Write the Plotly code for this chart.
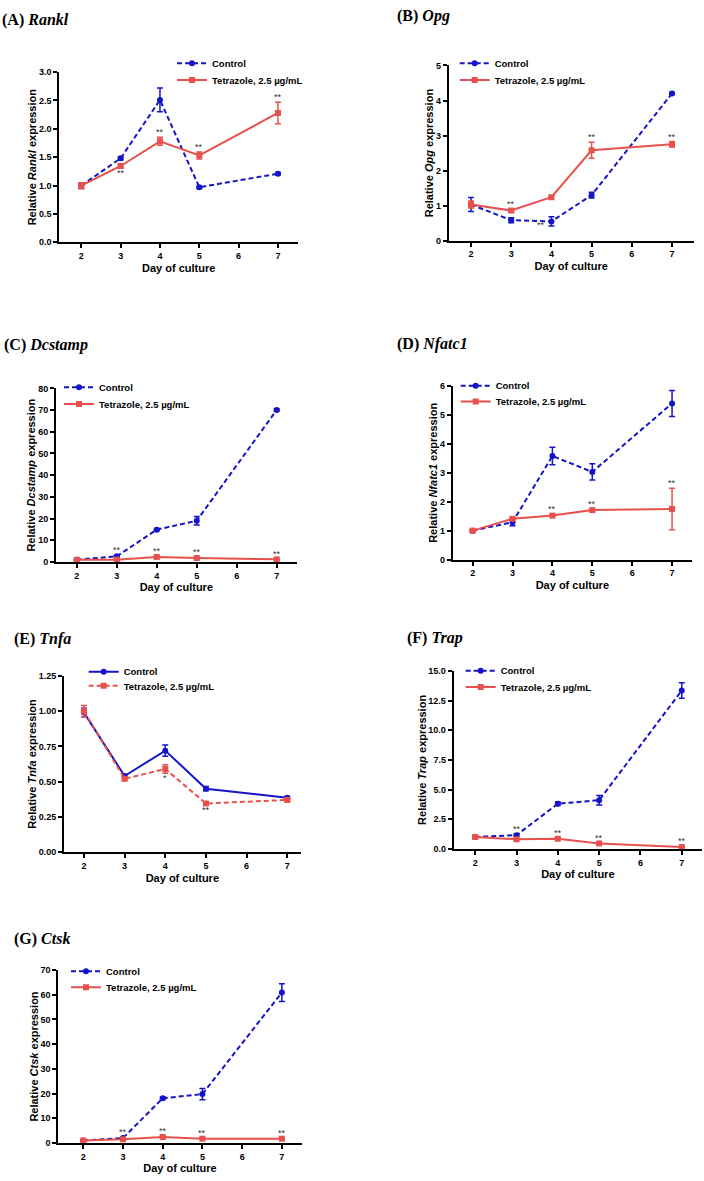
import plotly.graph_objects as go

W, H = 704, 1181
days = [2, 3, 4, 5, 7]

# (A) Rankl
rankl_ctrl = [1.00, 1.48, 2.51, 0.97, 1.21]
rankl_ctrl_err = [0.05, 0.03, 0.21, 0.02, 0.02]
rankl_tz = [1.00, 1.345, 1.78, 1.53, 2.28]
rankl_tz_err = [0.05, 0.03, 0.07, 0.06, 0.19]
# (B) Opg
opg_ctrl = [1.03, 0.585, 0.55, 1.30, 4.20]
opg_ctrl_err = [0.20, 0.07, 0.13, 0.08, 0.03]
opg_tz = [1.03, 0.86, 1.24, 2.58, 2.75]
opg_tz_err = [0.10, 0.05, 0.04, 0.23, 0.08]
# (C) Dcstamp
dc_ctrl = [1.07, 2.6, 14.9, 19.0, 70.1]
dc_ctrl_err = [0.2, 0.4, 0.5, 2.0, 0.5]
dc_tz = [1.0, 1.07, 2.3, 1.8, 1.2]
dc_tz_err = [0.2, 0.2, 0.4, 0.3, 0.2]
# (D) Nfatc1
nf_ctrl = [1.00, 1.29, 3.58, 3.03, 5.40]
nf_ctrl_err = [0.03, 0.12, 0.30, 0.28, 0.45]
nf_tz = [1.00, 1.41, 1.52, 1.71, 1.75]
nf_tz_err = [0.03, 0.04, 0.04, 0.04, 0.72]
# (E) Tnfa
tn_ctrl = [0.99, 0.54, 0.72, 0.45, 0.385]
tn_ctrl_err = [0.03, 0.01, 0.04, 0.015, 0.01]
tn_tz = [1.00, 0.52, 0.59, 0.345, 0.37]
tn_tz_err = [0.04, 0.01, 0.03, 0.01, 0.01]
# (F) Trap
tr_ctrl = [1.0, 1.15, 3.80, 4.10, 13.35]
tr_ctrl_err = [0.05, 0.10, 0.15, 0.40, 0.65]
tr_tz = [1.0, 0.80, 0.85, 0.45, 0.15]
tr_tz_err = [0.05, 0.05, 0.05, 0.05, 0.05]
# (G) Ctsk
ct_ctrl = [1.0, 2.0, 18.1, 19.8, 60.9]
ct_ctrl_err = [0.3, 0.3, 0.5, 2.3, 3.6]
ct_tz = [1.0, 1.5, 2.4, 1.74, 1.74]
ct_tz_err = [0.2, 0.2, 0.3, 0.2, 0.2]

ytick_A = [0.0, 0.5, 1.0, 1.5, 2.0, 2.5, 3.0]
ytick_B = [0, 1, 2, 3, 4, 5]
ytick_C = [0, 10, 20, 30, 40, 50, 60, 70, 80]
ytick_D = [0, 1, 2, 3, 4, 5, 6]
ytick_E = [0.00, 0.25, 0.50, 0.75, 1.00, 1.25]
ytick_F = [0.0, 2.5, 5.0, 7.5, 10.0, 12.5, 15.0]
ytick_G = [0, 10, 20, 30, 40, 50, 60, 70]
xticks = [2, 3, 4, 5, 6, 7]

BLUE = "#1414c8"
RED = "#e8504e"

panels = [
    dict(lab="(A)", gene="Rankl", c=rankl_ctrl, ce=rankl_ctrl_err, t=rankl_tz, te=rankl_tz_err,
         yt=ytick_A, fmt="{:.1f}", box=[59.3, 298, 67.7, 239.3], xr=[1.44, 7.51],
         tpos=(0, 15), lpos=(210, 63, 80), ctrl_dash=True,
         stars=[(3, "t", -1, "**", 0), (4, "t", 1, "**", 0), (5, "t", 1, "**", 0), (7, "t", 1, "**", 0)]),
    dict(lab="(B)", gene="Opg", c=opg_ctrl, ce=opg_ctrl_err, t=opg_tz, te=opg_tz_err,
         yt=ytick_B, fmt="{:d}", box=[448.7, 693.7, 61, 237.7], xr=[1.445, 7.54],
         tpos=(395, 11), lpos=(492.7, 63, 80), ctrl_dash=True,
         stars=[(3, "t", 1, "**", 0), (4, "c", 0, "**", -10), (5, "t", 1, "**", 0), (7, "t", 1, "**", 0)]),
    dict(lab="(C)", gene="Dcstamp", c=dc_ctrl, ce=dc_ctrl_err, t=dc_tz, te=dc_tz_err,
         yt=ytick_C, fmt="{:d}", box=[56, 296.7, 386.7, 561.7], xr=[1.48, 7.5],
         tpos=(2, 343), lpos=(97, 390, 406.7), ctrl_dash=True,
         stars=[(3, "c", 1, "**", 0), (4, "t", 1, "**", 0), (5, "t", 1, "**", 0), (7, "t", 1, "**", 0)]),
    dict(lab="(D)", gene="Nfatc1", c=nf_ctrl, ce=nf_ctrl_err, t=nf_tz, te=nf_tz_err,
         yt=ytick_D, fmt="{:d}", box=[452.7, 692, 384.3, 559.3], xr=[1.50, 7.50],
         tpos=(395, 342), lpos=(493.7, 388.3, 404.3), ctrl_dash=True,
         stars=[(4, "t", 1, "**", 0), (5, "t", 1, "**", 0), (7, "t", 1, "**", 0)]),
    dict(lab="(E)", gene="Tnfa", c=tn_ctrl, ce=tn_ctrl_err, t=tn_tz, te=tn_tz_err,
         yt=ytick_E, fmt="{:.2f}", box=[64, 300.7, 676.7, 854.3], xr=[1.51, 7.33],
         tpos=(12, 639), lpos=(121.7, 676.7, 691), ctrl_dash=False,
         stars=[(4, "t", -1, "*", 0), (5, "t", -1, "**", 0)]),
    dict(lab="(F)", gene="Trap", c=tr_ctrl, ce=tr_ctrl_err, t=tr_tz, te=tr_tz_err,
         yt=ytick_F, fmt="{:.1f}", box=[453.7, 702, 671.7, 851], xr=[1.48, 7.49],
         tpos=(405, 638), lpos=(498.7, 675.7, 692.3), ctrl_dash=True,
         stars=[(3, "c", 1, "**", 0), (4, "t", 1, "**", 0), (5, "t", 1, "**", 0), (7, "t", 1, "**", 0)]),
    dict(lab="(G)", gene="Ctsk", c=ct_ctrl, ce=ct_ctrl_err, t=ct_tz, te=ct_tz_err,
         yt=ytick_G, fmt="{:d}", box=[58.3, 301.7, 973.3, 1147.7], xr=[1.37, 7.50],
         tpos=(12, 942), lpos=(104, 979, 995), ctrl_dash=True,
         stars=[(3, "c", 1, "**", 0), (4, "t", 1, "**", 0), (5, "t", 1, "**", 0), (7, "t", 1, "**", 0)]),
]

fig = go.Figure()
annotations = []
layout = dict(width=W, height=H, margin=dict(l=0, r=0, t=0, b=0),
              plot_bgcolor="white", paper_bgcolor="white", showlegend=True)

AX_FONT = dict(family="Liberation Sans, Arial", size=9, color="black", weight="bold")
LEG_FONT = dict(family="Liberation Sans, Arial", size=9.5, color="black", weight="bold")

for i, p in enumerate(panels):
    k = "" if i == 0 else str(i + 1)
    xa, ya = "x" + k, "y" + k
    leg_c = "legend" if i == 0 else "legend" + str(2 * i + 1)
    leg_t = "legend" + str(2 * i + 2)
    x0, x1, y0, y1 = p["box"]
    ctrl_dash = "5px,3px" if p["ctrl_dash"] else "solid"
    tz_dash = "solid" if p["ctrl_dash"] else "5px,3px"
    fig.add_trace(go.Scatter(
        x=days, y=p["c"], name="Control", xaxis=xa, yaxis=ya, legend=leg_c,
        mode="lines+markers", line=dict(color=BLUE, width=2, dash=ctrl_dash),
        marker=dict(symbol="circle", size=6, color=BLUE),
        error_y=dict(type="data", array=p["ce"], color=BLUE, thickness=1.5, width=3),
        cliponaxis=False))
    fig.add_trace(go.Scatter(
        x=days, y=p["t"], name="Tetrazole, 2.5 µg/mL", xaxis=xa, yaxis=ya, legend=leg_t,
        mode="lines+markers", line=dict(color=RED, width=2, dash=tz_dash),
        marker=dict(symbol="square", size=6, color=RED),
        error_y=dict(type="data", array=p["te"], color=RED, thickness=1.5, width=3),
        cliponaxis=False))

    yt = p["yt"]
    layout["xaxis" + k] = dict(
        domain=[x0 / W, x1 / W], anchor=ya, range=p["xr"], tickvals=xticks,
        ticktext=[str(v) for v in xticks], showline=True, linecolor="black", linewidth=2,
        ticks="outside", ticklen=4, tickwidth=1.5, tickcolor="black", showgrid=False,
        zeroline=False, tickfont=AX_FONT,
        title=dict(text="Day of culture", standoff=4,
                   font=dict(family="Liberation Sans, Arial", size=11, color="black", weight="bold")))
    layout["yaxis" + k] = dict(
        domain=[1 - y1 / H, 1 - y0 / H], anchor=xa, range=[0, yt[-1]], tickvals=yt,
        ticktext=[p["fmt"].format(v) for v in yt], showline=True, linecolor="black", linewidth=2,
        ticks="outside", ticklen=4, tickwidth=1.5, tickcolor="black", showgrid=False,
        zeroline=False, tickfont=AX_FONT,
        title=dict(text="Relative <i>" + p["gene"] + "</i> expression", standoff=0,
                   font=dict(family="Liberation Sans, Arial", size=11, color="black", weight="bold")))
    lx, ly1, ly2 = p["lpos"]
    for leg, ly in ((leg_c, ly1), (leg_t, ly2)):
        layout[leg] = dict(x=(lx - 38) / W, y=1 - (ly - 19) / H, xanchor="left", yanchor="top",
                           xref="paper", yref="paper", bgcolor="rgba(0,0,0,0)",
                           font=LEG_FONT, itemwidth=30)
    tx, ty = p["tpos"]
    annotations.append(dict(
        text="<b>" + p["lab"] + " <i>" + p["gene"] + "</i></b>", x=tx / W, y=1 - ty / H,
        xref="paper", yref="paper", xanchor="left", yanchor="middle", showarrow=False,
        font=dict(family="Liberation Serif, Times New Roman", size=16, color="black")))
    for (d, s, direc, txt, xs) in p["stars"]:
        j = days.index(d)
        v = p["c"][j] if s == "c" else p["t"][j]
        e = p["ce"][j] if s == "c" else p["te"][j]
        if direc > 0:
            yv, ysh = v + e, 5
        elif direc < 0:
            yv, ysh = v - e, -5
        else:
            yv, ysh = v - e, 1
        annotations.append(dict(
            text=txt, x=d, y=yv, xref=xa, yref=ya, showarrow=False,
            yanchor="middle", yshift=ysh, xshift=xs,
            font=dict(family="Liberation Sans, Arial", size=9, color="#333333")))

layout["annotations"] = annotations
fig.update_layout(**layout)
fig.write_html("out.html")
